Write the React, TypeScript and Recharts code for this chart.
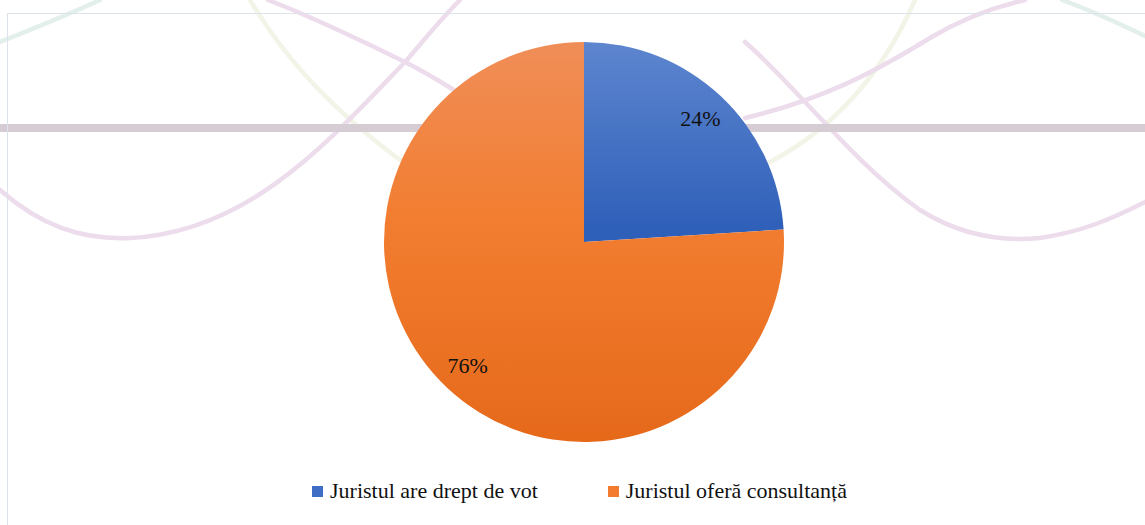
import React from 'react';
import { PieChart, Pie, Cell, Legend } from 'recharts';

const categories = ['Juristul are drept de vot', 'Juristul oferă consultanță'];
const shares = [24, 76];
const gradientIds = ['gradBlue', 'gradOrange'];
const legendColors = ['#3f6dc6', '#f27b30'];

const data = categories.map((name, i) => ({ name, value: shares[i] }));

const FONT = '"Liberation Serif", "DejaVu Serif", serif';
const RAD = Math.PI / 180;

// percent labels sit at ~84% of the radius, on the slice's mid angle
const renderLabel = (props: any) => {
    const { cx, cy, midAngle, outerRadius, percent } = props;
    const r = outerRadius * 0.85;
    const x = cx + r * Math.cos(-midAngle * RAD);
    const y = cy + r * Math.sin(-midAngle * RAD);
    return (
        <text x={x} y={y} fill="#111" fontFamily={FONT} fontSize={22} textAnchor="middle" dominantBaseline="central">
            {`${Math.round(percent * 100)}%`}
        </text>
    );
};

const renderLegend = () => (
    <div style={{ display: 'flex', justifyContent: 'center', alignItems: 'center', gap: 70, fontFamily: FONT, fontSize: 22, color: '#111', paddingLeft: 14 }}>
        {categories.map((c, i) => (
            <div key={c} style={{ display: 'flex', alignItems: 'center' }}>
                <span style={{ display: 'inline-block', width: 11, height: 11, background: legendColors[i], marginRight: 7 }} />
                <span>{c}</span>
            </div>
        ))}
    </div>
);

// faint decorative waves behind the chart
const Background = () => (
    <svg width={1145} height={525} style={{ position: 'absolute', left: 0, top: 0 }}>
        <g fill="none" strokeWidth={4.5} strokeLinecap="round">
            <path d="M0,42 C35,28 70,14 100,0" stroke="#e3efea" />
            <path d="M1062,0 C1095,12 1120,24 1145,36" stroke="#e3efea" />
            <path d="M250,0 C280,50 320,100 400,160" stroke="#f1f4e6" />
            <path d="M915,0 C880,80 830,130 770,162" stroke="#f1f4e6" />
            <path d="M0,190 C40,225 80,240 130,238 C250,232 330,140 405,62 C420,45 440,20 460,0" stroke="#ecdcec" />
            <path d="M268,0 C320,20 370,45 405,62 C440,80 470,100 500,120" stroke="#ecdcec" />
            <path d="M745,42 C800,90 850,160 920,210 C960,235 1000,242 1040,238 C1080,232 1110,220 1145,202" stroke="#ecdcec" />
            <path d="M745,118 C820,100 870,75 930,38 C960,20 990,8 1025,0" stroke="#ecdcec" />
        </g>
        <rect x={0} y={124} width={1145} height={8} fill="#d6ccd4" />
    </svg>
);

export default function App() {
    return (
        <div style={{ position: 'fixed', left: 0, top: 0, width: 1145, height: 525, overflow: 'hidden', background: '#fff' }}>
            <Background />
            <div style={{ position: 'absolute', left: 7, top: 13, width: 1200, height: 600, border: '1.5px solid #dde3ea' }} />
            <svg width={0} height={0} style={{ position: 'absolute' }}>
                <defs>
                    <linearGradient id="gradBlue" gradientUnits="userSpaceOnUse" x1={0} y1={42} x2={0} y2={232}>
                        <stop offset="0%" stopColor="#5e86cf" />
                        <stop offset="100%" stopColor="#2e5fb9" />
                    </linearGradient>
                    <linearGradient id="gradOrange" gradientUnits="userSpaceOnUse" x1={0} y1={42} x2={0} y2={442}>
                        <stop offset="0%" stopColor="#f08e58" />
                        <stop offset="45%" stopColor="#f27d30" />
                        <stop offset="100%" stopColor="#e6691a" />
                    </linearGradient>
                </defs>
            </svg>
            <div style={{ position: 'absolute', left: 0, top: 0 }}>
                <PieChart width={1145} height={525} margin={{ top: 0, right: 0, bottom: 0, left: 0 }}>
                    <Pie
                        data={data}
                        dataKey="value"
                        nameKey="name"
                        cx={584}
                        cy={242}
                        outerRadius={200}
                        startAngle={90}
                        endAngle={-270}
                        stroke="none"
                        label={renderLabel}
                        labelLine={false}
                        isAnimationActive={false}
                    >
                        {data.map((d, i) => (
                            <Cell key={d.name} fill={`url(#${gradientIds[i]})`} />
                        ))}
                    </Pie>
                    <Legend content={renderLegend} wrapperStyle={{ left: 0, top: 478, width: 1145 }} />
                </PieChart>
            </div>
        </div>
    );
}
